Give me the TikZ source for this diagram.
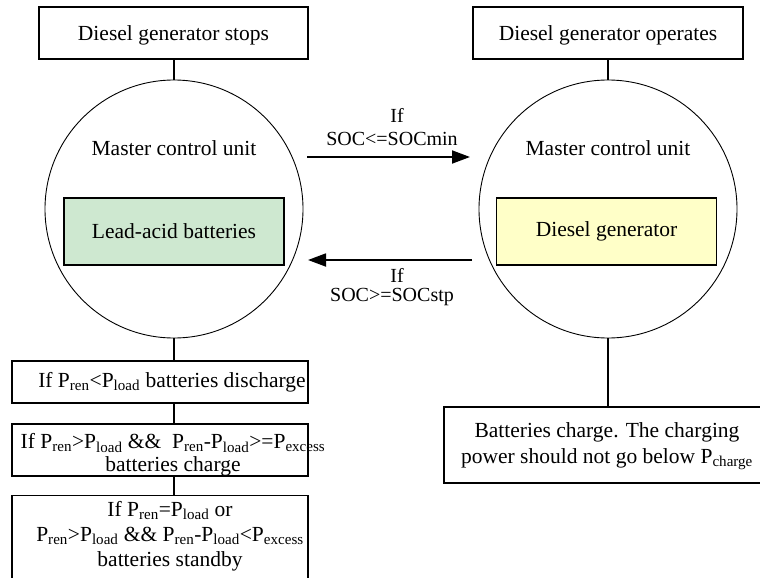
\documentclass[tikz,border=0pt]{standalone}
\usepackage{fontspec}
\setmainfont{Liberation Serif}
\usetikzlibrary{arrows.meta}
\definecolor{battgreen}{RGB}{206,232,208}
\definecolor{genyellow}{RGB}{255,255,200}
\newcommand{\Ps}[1]{P\textsubscript{#1}}
\begin{document}
\begin{tikzpicture}[x=1pt,y=-1pt,
  every node/.style={font=\fontsize{21.5}{24}\selectfont},
  box/.style={draw, line width=1.1pt, inner sep=0pt},
  btxt/.style={align=center, inner sep=0pt},
  ring/.style={draw, circle, line width=0.9pt, minimum size=258pt, inner sep=0pt},
  inbox/.style={draw, line width=1.1pt, inner sep=0pt, minimum width=220pt, minimum height=67pt},
  link/.style={line width=1.4pt},
  flow/.style={line width=1.8pt, -{Triangle[length=18pt,width=13pt]}},
  lbl/.style={font=\fontsize{20}{22}\selectfont, inner sep=0pt}
]
\useasboundingbox (0,0) rectangle (760,578);
% top boxes
\node[box, minimum width=269pt, minimum height=52pt] (stop) at (173.5,33) {};
\node[btxt] (stopt) at (173.5,35) {Diesel generator stops};
\node[box, minimum width=270pt, minimum height=52pt] (oper) at (608,33) {};
\node[btxt] (opert) at (608,35) {Diesel generator operates};
% circles
\node[ring] (lc) at (174,209) {};
\node[ring] (rc) at (608,209) {};
\node (lm) at (174,148) {Master control unit};
\node (rm) at (608,148) {Master control unit};
\node[inbox, fill=battgreen] (bat) at (174,231.5) {Lead-acid batteries};
\node[inbox, fill=genyellow] (gen) at (606.5,231.5) {Diesel generator};
% arrows
\coordinate (a1s) at (307,157);
\coordinate (a1e) at (470,157);
\coordinate (a2s) at (472,260);
\coordinate (a2e) at (308,260);
\draw[flow] (a1s) -- (a1e);
\draw[flow] (a2s) -- (a2e);
\node[lbl] (if1) at (397,115) {If};
\node[lbl] (soc1) at (392,139) {SOC<=SOCmin};
\node[lbl] (if2) at (397,275) {If};
\node[lbl] (soc2) at (392,297) {SOC>=SOCstp};
% left bottom boxes
\node[box, minimum width=296pt, minimum height=42pt] (b1) at (160,382) {};
\node[btxt] (b1t) at (172,382) {If \Ps{ren}<\Ps{load} batteries discharge};
\node[box, minimum width=296pt, minimum height=52pt] (b2) at (160,450) {};
\node[btxt, font=\fontsize{21.5}{23}\selectfont] (b2t) at (173,455)
  {If \Ps{ren}>\Ps{load} \&\&\ \ \Ps{ren}-\Ps{load}>=\Ps{excess}\\batteries charge};
\node[box, minimum width=296pt, minimum height=110pt, anchor=north] (b3) at (160,495) {};
\node[btxt, anchor=north, font=\fontsize{21.5}{25}\selectfont] (b3t) at (170,501)
  {If \Ps{ren}=\Ps{load} or\\\Ps{ren}>\Ps{load} \&\& \Ps{ren}-\Ps{load}<\Ps{excess}\\batteries standby};
% right bottom box
\node[box, minimum width=326pt, minimum height=76pt] (chg) at (607,445) {};
\node[btxt, font=\fontsize{21.5}{26}\selectfont] (chgt) at (607,446)
  {Batteries charge. The charging\\power should not go below \Ps{charge}};
% connectors
\draw[link] (stop.south -| lc.north) -- (lc.north);
\draw[link] (oper.south -| rc.north) -- (rc.north);
\draw[link] (lc.south) -- (b1.north -| lc.south);
\draw[link] (b1.south -| lc.south) -- (b2.north -| lc.south);
\draw[link] (b2.south -| lc.south) -- (b3.north -| lc.south);
\draw[link] (rc.south) -- (chg.north -| rc.south);
\end{tikzpicture}
\end{document}
